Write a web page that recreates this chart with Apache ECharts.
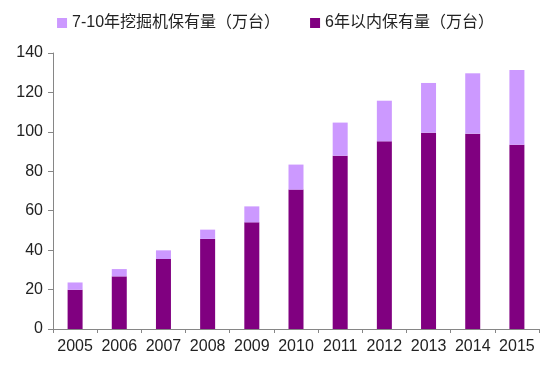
<!DOCTYPE html>
<html>
<head>
<meta charset="utf-8">
<script src="https://cdn.jsdelivr.net/npm/echarts@6/dist/echarts.min.js"></script>
<style>html,body{margin:0;padding:0;background:#fff}#c{width:551px;height:368px}</style>
</head>
<body>
<div id="c"></div>
<script>
var years = ['2005','2006','2007','2008','2009','2010','2011','2012','2013','2014','2015'];
var within6 = [19.9, 26.7, 35.5, 45.7, 54.1, 70.7, 87.9, 95.2, 99.6, 99.1, 93.5];
var age7to10 = [3.7, 3.7, 4.4, 4.7, 8.1, 12.7, 16.8, 20.6, 25.2, 30.6, 37.9];
var nameA = '7-10年挖掘机保有量（万台）';
var nameB = '6年以内保有量（万台）';
var yTicks = [0, 20, 40, 60, 80, 100, 120, 140];

var chart = echarts.init(document.getElementById('c'));
var font = '"Liberation Sans", Arial, "Noto Sans CJK SC", sans-serif';
chart.setOption({
  animation: false,
  textStyle: { fontFamily: font },
  legend: {
    data: [nameA, nameB],
    top: 10,
    left: 'center',
    itemWidth: 10,
    itemHeight: 10,
    itemGap: 30,
    icon: 'rect',
    textStyle: { fontSize: 16, color: '#222', fontFamily: font }
  },
  grid: { left: 53, right: 12, top: 53, bottom: 39 },
  xAxis: {
    type: 'category',
    data: years,
    axisLine: { lineStyle: { color: '#868686' } },
    axisTick: { show: true, length: 4, lineStyle: { color: '#868686' } },
    axisLabel: { fontSize: 16, color: '#222', margin: 10, interval: 0, hideOverlap: false, fontFamily: font }
  },
  yAxis: {
    type: 'value',
    min: yTicks[0],
    max: yTicks[yTicks.length - 1],
    interval: 20,
    axisLine: { show: true, lineStyle: { color: '#868686' } },
    axisTick: { show: true, length: 5, lineStyle: { color: '#868686' } },
    splitLine: { show: false },
    axisLabel: { fontSize: 16, color: '#222', margin: 10, fontFamily: font }
  },
  series: [
    {
      name: nameB,
      type: 'bar',
      stack: 'total',
      data: within6,
      barWidth: 15,
      itemStyle: { color: '#800080' }
    },
    {
      name: nameA,
      type: 'bar',
      stack: 'total',
      data: age7to10,
      barWidth: 15,
      itemStyle: { color: '#CC99FF' }
    }
  ]
});
</script>
</body>
</html>
